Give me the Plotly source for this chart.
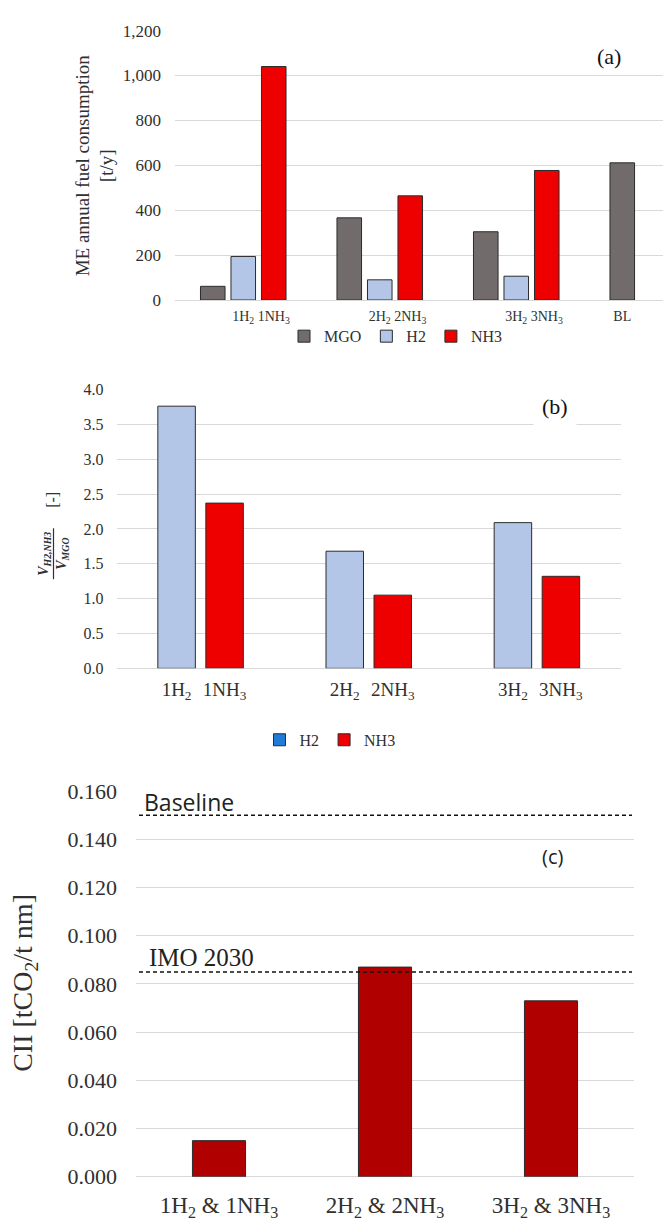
import plotly.graph_objects as go

W, H = 663, 1228
SERIF = "Liberation Serif"
SANS = "Open Sans"

# ---------------- data ----------------
# Panel (a): ME annual fuel consumption [t/y]
a_groups = ["1", "2", "3", "BL"]
a_mgo = [61, 366, 304, 611]
a_h2 = [194, 90, 106, None]
a_nh3 = [1040, 464, 577, None]
a_ticktext = ["1H<sub>2</sub>", "1NH<sub>3</sub>", "2H<sub>2</sub>", "2NH<sub>3</sub>",
              "3H<sub>2</sub>", "3NH<sub>3</sub>", "BL"]
a_yticks = [0, 200, 400, 600, 800, 1000, 1200]

# Panel (b): volume ratio V_H2,NH3 / V_MGO [-]
b_groups = ["1", "2", "3"]
b_h2 = [3.76, 1.68, 2.09]
b_nh3 = [2.37, 1.05, 1.32]
b_ticktext = ["1H<sub>2</sub>", "1NH<sub>3</sub>", "2H<sub>2</sub>", "2NH<sub>3</sub>",
              "3H<sub>2</sub>", "3NH<sub>3</sub>"]
b_yticks = [0.0, 0.5, 1.0, 1.5, 2.0, 2.5, 3.0, 3.5, 4.0]

# Panel (c): CII [tCO2/t nm]
c_cats = ["1H<sub>2</sub> &amp; 1NH<sub>3</sub>", "2H<sub>2</sub> &amp; 2NH<sub>3</sub>",
          "3H<sub>2</sub> &amp; 3NH<sub>3</sub>"]
c_cii = [0.015, 0.087, 0.073]
c_refs = [0.150, 0.085]
c_ref_labels = ["Baseline", "IMO 2030"]
c_yticks = [0.0, 0.02, 0.04, 0.06, 0.08, 0.10, 0.12, 0.14, 0.16]

# ---------------- styles ----------------
C_MGO = "#716c6b"
C_H2 = "#b4c6e7"
C_NH3 = "#ee0000"
C_H2_LEG = "#1f7ad8"
C_CII = "#b00000"
EDGE = dict(color="#2b2b2b", width=1)
GRID = "#d9d9d9"
TXT = "#303030"


def px(x):
    return x / W


def py(y):
    return 1 - y / H


fig = go.Figure()

# ---- panel (a) ----
sa, wa = 0.2234, 0.18
xa = list(range(len(a_groups)))
for name, vals, col, off in [("MGO", a_mgo, C_MGO, -sa), ("H2", a_h2, C_H2, 0.0), ("NH3", a_nh3, C_NH3, sa)]:
    fig.add_trace(go.Bar(x=xa, y=vals, name=name, marker=dict(color=col, line=EDGE),
                         width=wa, offset=off - wa / 2, xaxis="x", yaxis="y",
                         legend="legend", showlegend=True))
a_tickvals = []
for i in xa:
    if a_h2[i] is None and a_nh3[i] is None:
        a_tickvals.append(i - sa)
    else:
        if a_h2[i] is not None:
            a_tickvals.append(i)
        if a_nh3[i] is not None:
            a_tickvals.append(i + sa)

# ---- panel (b) ----
sb, wb = 0.2854, 0.223
xb = list(range(len(b_groups)))
for name, vals, col, off in [("H2", b_h2, C_H2, -sb / 2), ("NH3", b_nh3, C_NH3, sb / 2)]:
    fig.add_trace(go.Bar(x=xb, y=vals, name=name, marker=dict(color=col, line=EDGE),
                         width=wb, offset=off - wb / 2, xaxis="x2", yaxis="y2",
                         showlegend=False))
for name, col in [("H2", C_H2_LEG), ("NH3", C_NH3)]:
    fig.add_trace(go.Bar(x=[None], y=[None], name=name, marker=dict(color=col, line=EDGE),
                         xaxis="x2", yaxis="y2", legend="legend2", showlegend=True))
b_tickvals = []
for i in xb:
    b_tickvals += [i - sb / 2, i + sb / 2]

# ---- panel (c) ----
wc = 0.32
xc = list(range(len(c_cats)))
fig.add_trace(go.Bar(x=xc, y=c_cii, marker=dict(color=C_CII, line=EDGE), width=wc,
                     offset=-wc / 2, xaxis="x3", yaxis="y3", showlegend=False))

common_y = dict(showgrid=True, gridcolor=GRID, gridwidth=1.3, zeroline=True, zerolinecolor=GRID,
                zerolinewidth=1.3, showline=False, ticks="")
common_x = dict(showgrid=False, zeroline=False, showline=False, ticks="", tickangle=0)

fig.update_layout(
    width=W, height=H, margin=dict(l=0, r=0, t=0, b=0),
    paper_bgcolor="white", plot_bgcolor="white",
    barmode="overlay",
    font=dict(family=SERIF, color=TXT),
    xaxis=dict(domain=[px(175), 1.0], range=[-0.5, 3.075], anchor="y",
               tickmode="array", tickvals=a_tickvals, ticktext=a_ticktext,
               tickfont=dict(size=14, family=SERIF, color=TXT), ticklabelstandoff=6, **common_x),
    yaxis=dict(domain=[py(294), py(19)], range=[0, 1200], anchor="x",
               tickmode="array", tickvals=a_yticks, tickformat=",d",
               tickfont=dict(size=17, family=SERIF, color=TXT), ticklabelstandoff=13, **common_y),
    xaxis2=dict(domain=[px(116.5), px(621)], range=[-0.5, 2.5], anchor="y2",
                tickmode="array", tickvals=b_tickvals, ticktext=b_ticktext,
                tickfont=dict(size=19, family=SERIF, color=TXT), ticklabelstandoff=8, **common_x),
    yaxis2=dict(domain=[py(670), py(385.3)], range=[0, 4], anchor="x2",
                tickmode="array", tickvals=b_yticks, tickformat=".1f",
                tickfont=dict(size=16, family=SERIF, color=TXT), ticklabelstandoff=12, **common_y),
    xaxis3=dict(domain=[px(136), px(634)], range=[-0.5, 2.5], anchor="y3",
                tickmode="array", tickvals=xc, ticktext=c_cats,
                tickfont=dict(size=23, family=SERIF, color=TXT), ticklabelstandoff=12, **common_x),
    yaxis3=dict(domain=[py(1189), py(795.3)], range=[0, 0.16], anchor="x3",
                tickmode="array", tickvals=c_yticks, tickformat=".3f",
                tickfont=dict(size=22, family=SERIF, color=TXT), ticklabelstandoff=18, **common_y),
    legend=dict(orientation="h", x=px(396), y=py(331), xanchor="center", yanchor="middle",
                font=dict(size=16, family=SERIF, color=TXT), itemwidth=30,
                bgcolor="rgba(0,0,0,0)", tracegroupgap=0),
    legend2=dict(orientation="h", x=px(330), y=py(743), xanchor="center", yanchor="middle",
                 font=dict(size=16, family=SERIF, color=TXT), itemwidth=30,
                 bgcolor="rgba(0,0,0,0)", tracegroupgap=0),
)

# reference lines in panel (c)
for val in c_refs:
    fig.add_shape(type="line", xref="x3 domain", yref="y3", x0=0.006, x1=0.996, y0=val, y1=val,
                  line=dict(color="#111", width=1.5, dash="4px,3px"), layer="above")


def note(text, x, y, size, family=SERIF, angle=0, xanchor="center", **kw):
    return dict(text=text, x=px(x), y=py(y), xref="paper", yref="paper", showarrow=False,
                xanchor=xanchor, yanchor="middle", textangle=angle,
                font=dict(size=size, family=family, color=kw.pop("color", TXT)), **kw)


ann = [
    note("(a)", 609, 45, 22, color="#111"),
    note("(b)", 555, 403, 22, color="#111", bgcolor="white", borderpad=8),
    note("(c)", 552, 862, 20, family=SANS, color="#222"),
    note(c_ref_labels[0], 142, 806, 23, family=SANS, xanchor="left", color="#222"),
    note(c_ref_labels[1], 147, 965, 25, xanchor="left", color="#222"),
    note("ME annual fuel consumption<br>[t/y]", 95, 156.5, 19, angle=-90),
    note("<b><i>V</i></b><sub><b><i>H2,NH3</i></b></sub>", 45, 553, 14, angle=-90),
    note("<b><i>V</i></b><sub><b><i>MGO</i></b></sub>", 63, 553, 14, angle=-90),
    note("[-]", 53, 498, 16, angle=-90),
    note("CII [tCO<sub>2</sub>/t nm]", 25, 991, 28, angle=-90),
]
fig.update_layout(annotations=ann)

# fraction bar of the panel (b) axis title
fig.add_shape(type="line", xref="paper", yref="paper", x0=px(53.5), x1=px(53.5),
              y0=py(527), y1=py(579), line=dict(color=TXT, width=1.2))

fig.write_html("out.html")
